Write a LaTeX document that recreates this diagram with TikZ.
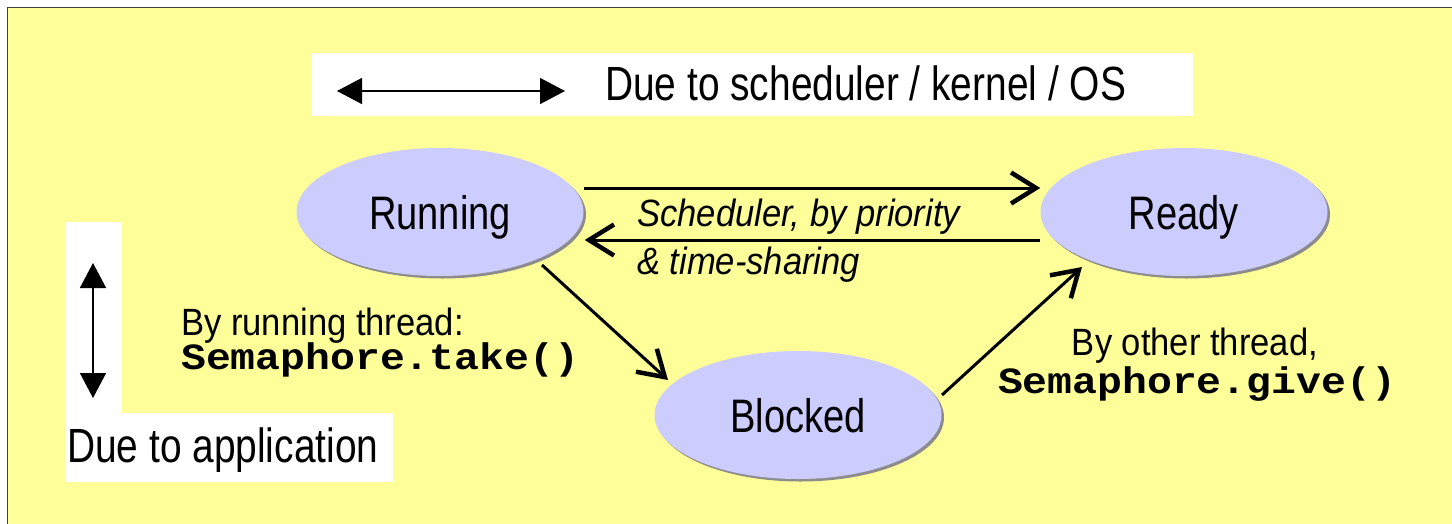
\documentclass[tikz,border=0pt]{standalone}
\usepackage{fontspec}
\setmainfont{Liberation Sans}[FakeStretch=0.81]
\newfontfamily\labelfont{Liberation Sans}[FakeStretch=0.91]
\newfontfamily\codefont{Liberation Mono}[FakeStretch=1.12]
\usetikzlibrary{arrows.meta,shapes.geometric,shadows,calc}
\definecolor{panelyellow}{HTML}{FFFF99}
\definecolor{statefill}{HTML}{CCCCFF}
\definecolor{shadowgray}{HTML}{8C8C8C}
\definecolor{framegray}{HTML}{404040}

\begin{document}
\begin{tikzpicture}[x=1pt,y=-1pt,
  state/.style={ellipse, minimum width=287pt, minimum height=128pt, inner sep=0pt,
    fill=statefill,
    copy shadow={shadow xshift=2.5pt, shadow yshift=-2.5pt, fill=shadowgray, draw=none},
    font=\fontsize{47}{56}\selectfont, text height=34pt, text depth=0pt},
  trans/.style={line width=3pt, -{Straight Barb[length=25pt,width=31pt,line width=4.5pt]}},
  legend/.style={line width=1.5pt,
    {Triangle[length=25pt,width=26pt]}-{Triangle[length=25pt,width=26pt]}},
  big/.style={font=\fontsize{48}{56}\selectfont, inner sep=0pt},
  lbl/.style={font=\labelfont\fontsize{38}{46}\selectfont, inner sep=0pt},
  ital/.style={font=\labelfont\fontsize{38}{46}\selectfont\itshape, inner sep=0pt},
  code/.style={font=\codefont\bfseries\fontsize{37}{44}\selectfont, inner sep=0pt},
]
\useasboundingbox (0,0) rectangle (1452,523);

% panel background, cut off at the right and bottom
\begin{scope}
  \clip (0,0) rectangle (1452,523);
  \draw[fill=panelyellow, draw=framegray, line width=1.5pt] (7.5,7.5) rectangle (1480,560);
\end{scope}

% legend: horizontal arrow
\fill[white] (312,53) rectangle (1193,116);
\coordinate (hl) at (337,91);
\coordinate (hr) at (565,91);
\draw[legend] (hl) -- (hr);
\node[big, anchor=base west] (schedtxt) at (605,100) {Due to scheduler / kernel / OS};

% legend: vertical arrow
\fill[white] (65,222) rectangle (122,482);
\fill[white] (65,413) rectangle (393,482);
\coordinate (vt) at (93,263);
\coordinate (vb) at (93,398);
\draw[legend] (vt) -- (vb);
\node[big, anchor=base west] (apptxt) at (67,462) {Due to application};

% thread states
\node[state] (run) at (440,212) {Running};
\node[state] (ready) at (1184,212) {Ready};
\node[state] (blk) at (798,415) {Blocked};

% transitions
\draw[trans] ($(run.east)+(0,-24)$) -- ($(ready.west)+(0,-24)$);
\draw[trans] ($(ready.west)+(0,28)$) -- ($(run.east)+(1,28)$);
\draw[trans] ($(run.center)+(102,53)$) -- ($(blk.center)+(-130,-35)$);
\draw[trans] ($(blk.center)+(144,-20)$) -- ($(ready.center)+(-102,55)$);

% transition labels
\node[ital, anchor=base west] (schedlbl) at (637,226) {Scheduler, by priority};
\node[ital, anchor=base west] (timelbl) at (637,274) {\& time-sharing};
\node[lbl, anchor=base west] (takelbl) at (181,335) {By running thread:};
\node[code, anchor=base west] (takecode) at (181,369) {Semaphore.take()};
\node[lbl, anchor=base] (givelbl) at (1195,355) {By other thread,};
\node[code, anchor=base] (givecode) at (1197,393) {Semaphore.give()};
\end{tikzpicture}
\end{document}
